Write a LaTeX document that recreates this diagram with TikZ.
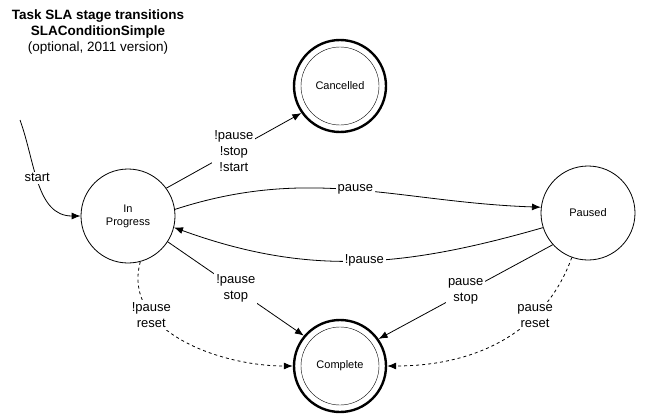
\documentclass[tikz,border=0pt]{standalone}
\usepackage{fontspec}
\setmainfont{Liberation Sans}
\usetikzlibrary{arrows.meta}
\begin{document}
\begin{tikzpicture}[x=1pt, y=-1pt, >={Latex[length=9pt,width=7pt]},
  state/.style={circle, draw, thick, minimum size=94pt, inner sep=0pt, align=center, font=\fontsize{11}{13}\selectfont},
  final/.style={state, line width=2.4pt, minimum size=92pt},
  inner/.style={draw, thin},
  lab/.style={fill=white, align=center, inner sep=2pt, font=\fontsize{13}{16}\selectfont},
  trans/.style={thick, ->}]
\useasboundingbox (0,0) rectangle (653,420);
\node [align=center, font=\fontsize{13.5}{16}\selectfont] (title) at (98,32)
  {\textbf{Task SLA stage transitions}\\ \textbf{SLAConditionSimple}\\ (optional, 2011 version)};
\node [state] (prog) at (128,216) {In\\Progress};
\node [state] (paused) at (588,213) {Paused};
\node [final] (canc) at (340,86) {Cancelled};
\node [final] (done) at (340,366) {Complete};
\draw [inner] (canc.center) circle [radius=39];
\draw [inner] (done.center) circle [radius=39];
\coordinate (init) at (20,120);
% start
\draw [trans] (init) to[out=-70, in=180] node[lab, pos=0.45] {start} (prog.west);
% to cancelled
\draw [trans] (prog.36) -- node[lab, pos=0.5] {!pause\\!stop\\!start} (canc.215);
% pause / unpause
\draw [trans] (prog.8) to[out=18, in=178] node[lab, pos=0.5] {pause} (paused.173);
\draw [trans] (paused.198) to[out=196, in=-20] node[lab, pos=0.48] {!pause} (prog.-14);
% stop
\draw [trans] (prog.-33) -- node[lab, pos=0.5] {!pause\\stop} (done.140);
\draw [trans] (paused.-138) -- node[lab, pos=0.5] {pause\\stop} (done.35);
% reset
\draw [trans, dashed] (prog.-75) to[out=-105, in=180] node[lab, pos=0.3] {!pause\\reset} (done.180);
\draw [trans, dashed] (paused.-110) to[out=-110, in=0] node[lab, pos=0.3] {pause\\reset} (done.0);
\end{tikzpicture}
\end{document}
